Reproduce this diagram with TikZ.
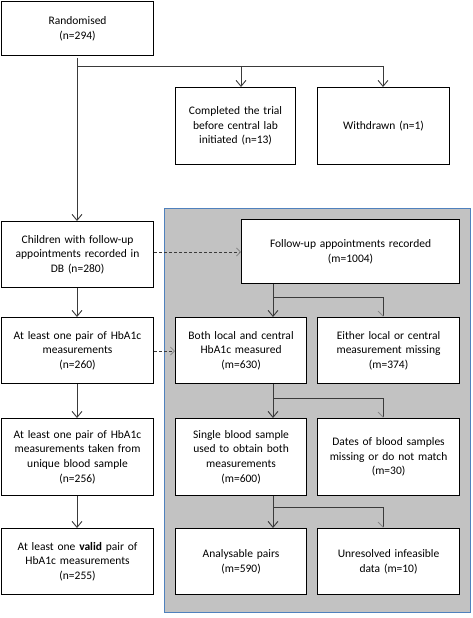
\documentclass[tikz,border=0pt]{standalone}
\usepackage{fontspec}
\setmainfont{Carlito}
\usetikzlibrary{arrows.meta,calc}
\definecolor{panelgray}{HTML}{C2C2C2}
\definecolor{panelblue}{HTML}{4F81BD}
\definecolor{linegray}{HTML}{3A3A3A}
\definecolor{tipgray}{HTML}{8A8A8A}
\tikzset{
  box/.style={draw=black, line width=1.1pt, fill=white, align=center, inner sep=2pt,
    font=\fontsize{11.5}{14.6}\selectfont, anchor=north west},
  conn/.style={draw=linegray, line width=0.9pt},
  arr/.style={conn, -{Straight Barb[length=6pt,width=10pt,line width=0.9pt]}},
  faintarr/.style={conn, -{Straight Barb[right,length=5pt,width=10pt,line width=0.8pt,color=tipgray]}},
  dasharr/.style={draw=linegray, line width=0.7pt, dashed, dash pattern=on 3pt off 2pt,
    -{Straight Barb[length=4pt,width=8pt,line width=0.8pt,color=tipgray]}},
}
\begin{document}
\begin{tikzpicture}[x=1pt,y=1pt]
\useasboundingbox (0,0) rectangle (473,-618);
% panel
\filldraw[fill=panelgray, draw=panelblue, line width=1pt] (164,-208) rectangle (470,-612);
% left column
\node[box, minimum width=152pt, minimum height=54pt, text width=144pt] (rand) at (1,-1) {Randomised\\(n=294)};
\node[box, minimum width=120pt, minimum height=77pt, text width=114pt] (comp) at (175,-87) {Completed the trial\\before central lab\\initiated (n=13)};
\node[box, minimum width=132pt, minimum height=77pt, text width=124pt] (withd) at (317,-87) {Withdrawn (n=1)};
\node[box, minimum width=152pt, minimum height=66pt, text width=144pt] (child) at (1,-221) {Children with follow-up\\appointments recorded in\\DB (n=280)};
\node[box, minimum width=152pt, minimum height=66pt, text width=144pt] (pair) at (1,-317) {At least one pair of HbA1c\\measurements\\(n=260)};
\node[box, minimum width=152pt, minimum height=77pt, text width=144pt] (uniq) at (1,-418) {At least one pair of HbA1c\\measurements taken from\\unique blood sample\\(n=256)};
\node[box, minimum width=152pt, minimum height=66pt, text width=144pt] (valid) at (1,-528) {At least one \textbf{valid} pair of\\HbA1c measurements\\(n=255)};
% right panel boxes
\node[box, minimum width=218pt, minimum height=64pt, text width=208pt] (fup) at (241,-219) {Follow-up appointments recorded\\(m=1004)};
\node[box, minimum width=131pt, minimum height=66pt, text width=125pt] (both) at (175,-317) {Both local and central\\HbA1c measured\\(m=630)};
\node[box, minimum width=142pt, minimum height=66pt, text width=136pt] (either) at (317,-317) {Either local or central\\measurement missing\\(m=374)};
\node[box, minimum width=131pt, minimum height=77pt, text width=125pt] (single) at (175,-418) {Single blood sample\\used to obtain both\\measurements\\(m=600)};
\node[box, minimum width=142pt, minimum height=77pt, text width=136pt] (dates) at (317,-418) {Dates of blood samples\\missing or do not match\\(m=30)};
\node[box, minimum width=131pt, minimum height=66pt, text width=125pt] (anal) at (175,-528) {Analysable pairs\\(m=590)};
\node[box, minimum width=142pt, minimum height=66pt, text width=136pt] (unres) at (317,-528) {Unresolved infeasible\\data (m=10)};
% coordinates
\coordinate (rstart) at (77,-58);
\coordinate (rbranch) at (77,-66);
\coordinate (cbranch) at (241,-66);
\coordinate (wbranch) at (383,-66);
\coordinate (fbr) at (273,-297);
\coordinate (fbr2) at (383,-297);
\coordinate (bbr) at (273,-398);
\coordinate (bbr2) at (383,-398);
\coordinate (sbr) at (273,-507);
\coordinate (sbr2) at (383,-507);
% top connectors
\draw[arr] (rstart) -- (child.north -| rstart);
\draw[conn] (rbranch) -- (wbranch);
\draw[arr] (cbranch) -- (comp.north -| cbranch);
\draw[arr] (wbranch) -- (withd.north -| wbranch);
% left column
\draw[arr] (child.south -| rstart) -- (pair.north -| rstart);
\draw[arr] (pair.south -| rstart) -- (uniq.north -| rstart);
\draw[arr] (uniq.south -| rstart) -- (valid.north -| rstart);
% dashed
\draw[dasharr] (child.east |- 0,-252) -- (fup.west |- 0,-252);
\draw[dasharr] (pair.east |- 0,-351) -- (both.west |- 0,-351);
% panel connectors
\draw[arr] (fup.south -| fbr) -- (both.north -| fbr);
\draw[conn] (fbr) -- (fbr2);
\draw[faintarr] (fbr2) -- (either.north -| fbr2);
\draw[arr] (both.south -| bbr) -- (single.north -| bbr);
\draw[conn] (bbr) -- (bbr2);
\draw[faintarr] (bbr2) -- (dates.north -| bbr2);
\draw[arr] (single.south -| sbr) -- (anal.north -| sbr);
\draw[conn] (sbr) -- (sbr2);
\draw[faintarr] (sbr2) -- (unres.north -| sbr2);
\end{tikzpicture}
\end{document}
